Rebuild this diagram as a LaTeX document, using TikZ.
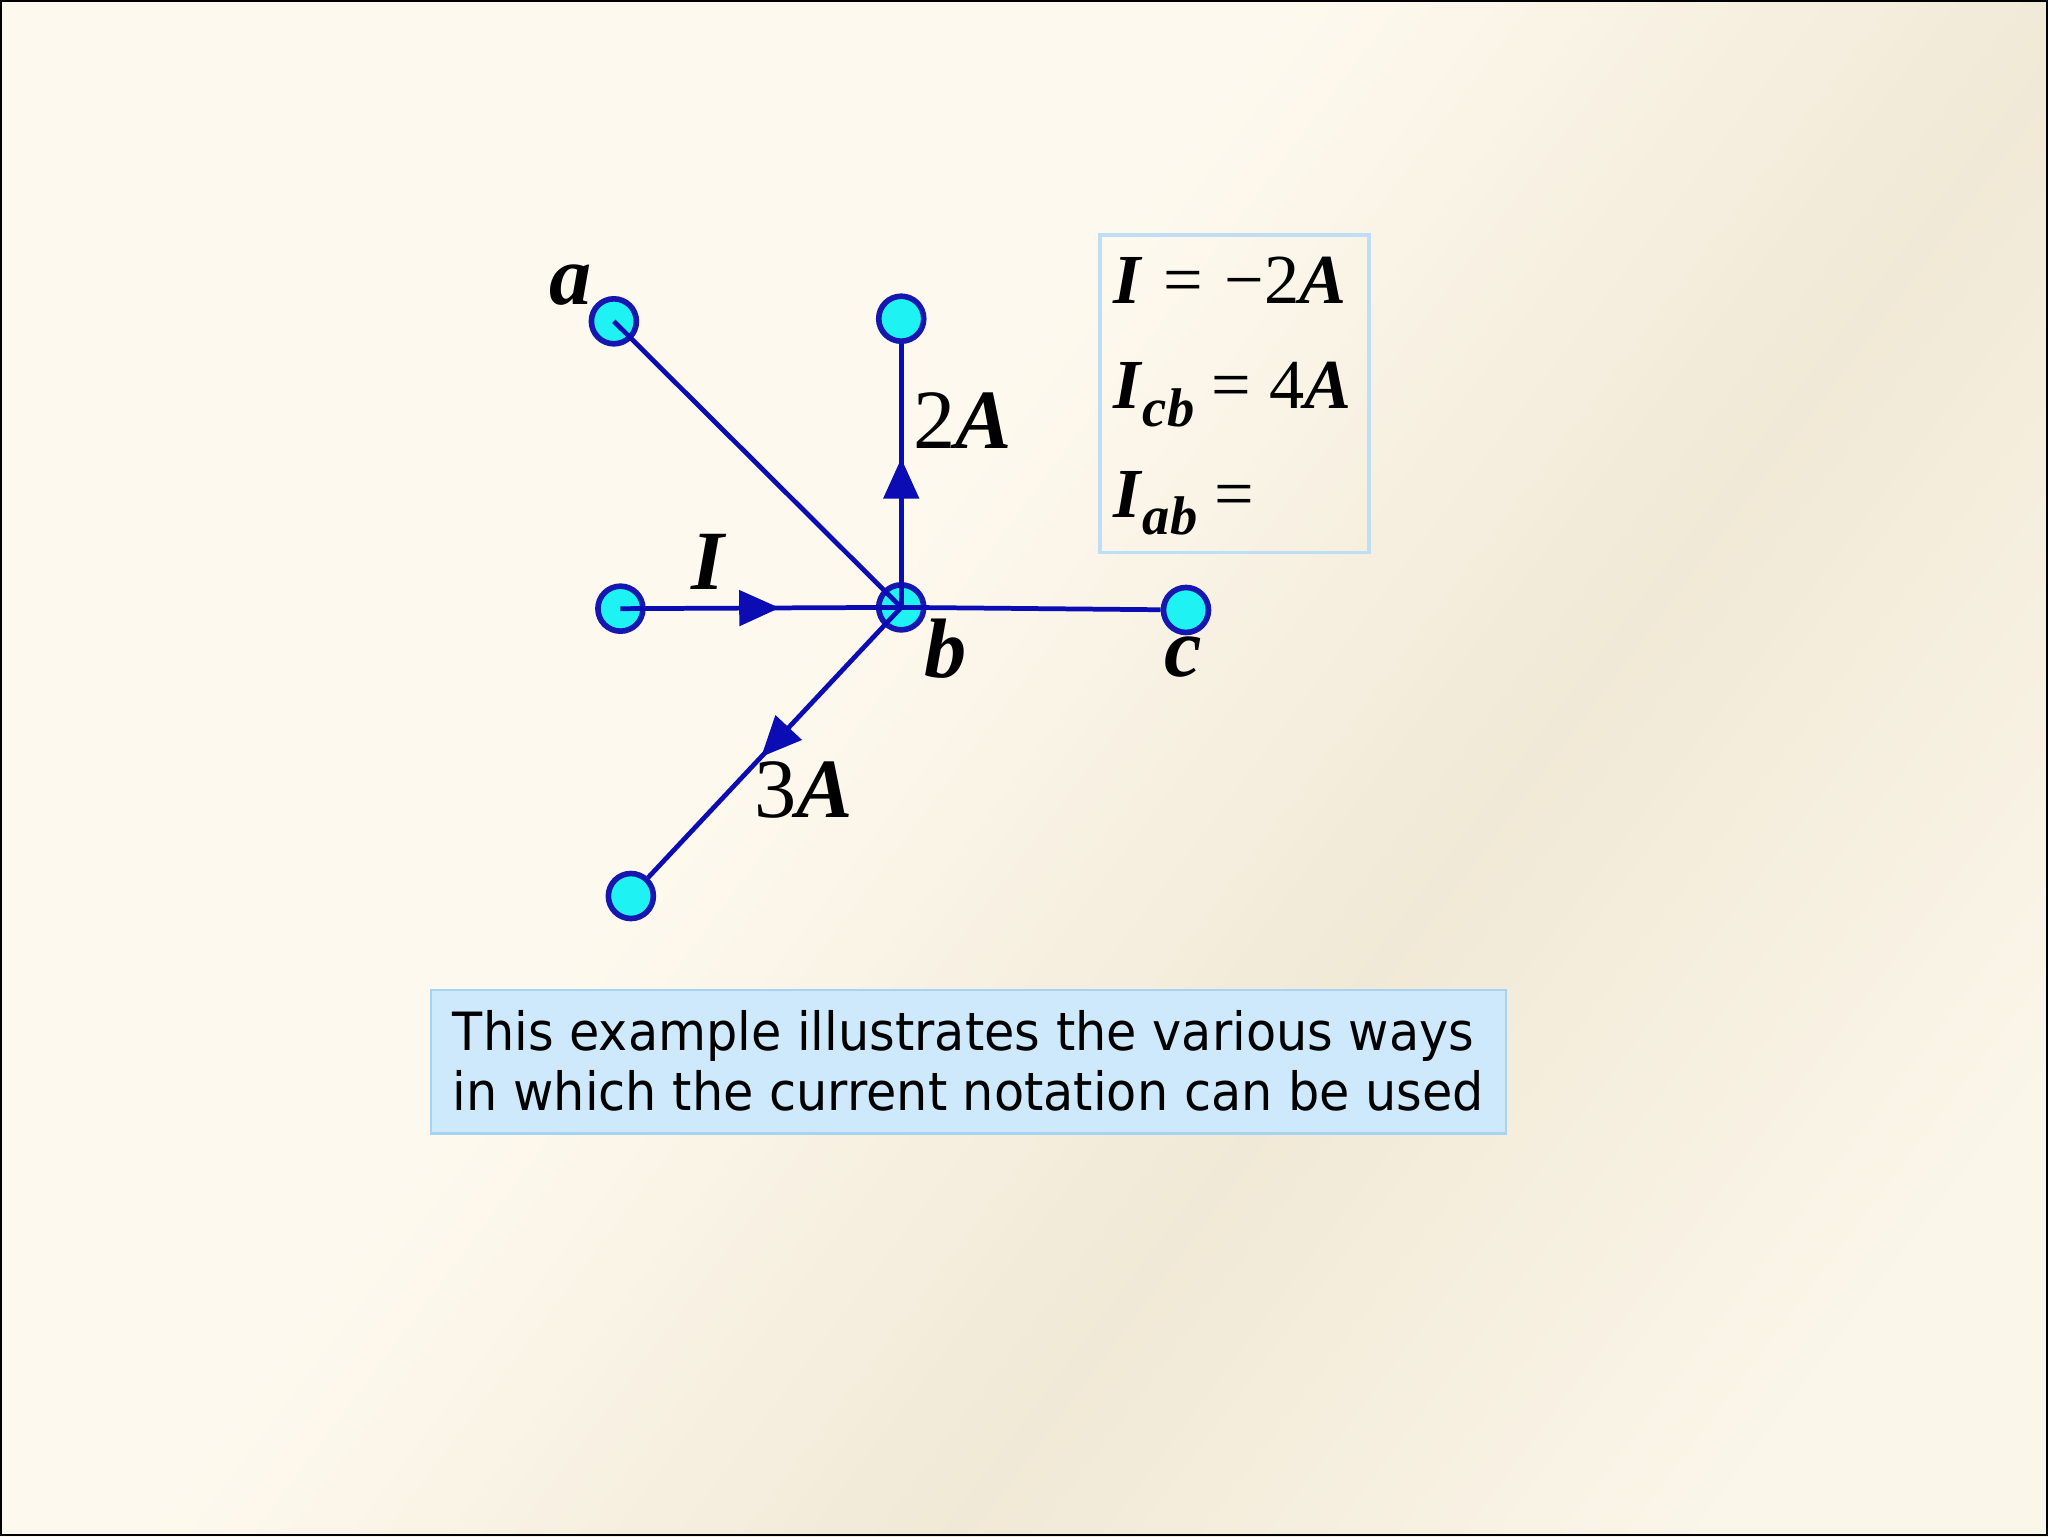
\documentclass[tikz,border=0pt]{standalone}
\usepackage{fontspec}
\setmainfont{Liberation Serif}
\newfontfamily\notefont{DejaVu Sans}
\usetikzlibrary{arrows.meta,decorations.markings}
\definecolor{wire}{RGB}{12,12,180}
\definecolor{rim}{RGB}{22,22,176}
\definecolor{dotfill}{RGB}{30,242,242}
\definecolor{boxline}{RGB}{190,221,247}
\definecolor{notefill}{RGB}{205,233,251}
\definecolor{noteline}{RGB}{168,210,242}
\definecolor{creamA}{RGB}{254,249,238}
\definecolor{creamB}{RGB}{241,233,214}
\definecolor{creamC}{RGB}{251,246,234}
\newcommand{\bivar}[1]{\textbf{\textit{#1}}}
\newcommand{\lowidx}[1]{\raisebox{-0.25em}{\fontsize{15.5}{15.5}\selectfont\bivar{#1}}}
\tikzset{
  terminal/.style={circle, draw=rim, fill=dotfill, line width=1.6pt, minimum size=12.8pt, inner sep=0pt},
  wire/.style={draw=wire, line width=1.35pt},
  mid arrow/.style={postaction={decorate}, decoration={markings,
      mark=at position #1 with {\arrow[wire]{Triangle[length=11.5pt,width=10pt]}}}},
  label/.style={inner sep=0pt, font=\fontsize{24}{24}\selectfont},
  eqline/.style={anchor=base west, inner sep=0pt, font=\fontsize{20}{20}\selectfont},
}
\begin{document}
\begin{tikzpicture}[x=0.1306mm, y=-0.1306mm]
    \useasboundingbox (0,0) rectangle (1568,1176);
    % background: diagonal bands
    \begin{scope}
      \clip (0,0) rectangle (1568,1176);
      \foreach \p in {-20,0,...,1980}{
        \pgfmathtruncatemacro{\w}{max(0,100*(1-abs(\p-1270)/480))}
        \ifnum\p<1270 \def\base{creamA}\else\def\base{creamC}\fi
        \fill[creamB!\w!\base] ({0.8*\p-960},{0.6*\p+1280}) -- ({0.8*\p+960},{0.6*\p-1280})
          -- ({0.8*(\p+22)+960},{0.6*(\p+22)-1280}) -- ({0.8*(\p+22)-960},{0.6*(\p+22)+1280}) -- cycle;
      }
    \end{scope}
    \draw[black, line width=0.6pt] (1,1) rectangle (1567,1175);

    % terminals
    \node[name=a, terminal] at (470,246) {};
    \node[name=d, terminal] at (690,244) {};
    \node[name=e, terminal] at (475,466) {};
    \node[name=b, terminal] at (690,465) {};
    \node[name=c, terminal] at (908,467) {};
    \node[name=f, terminal] at (483,686) {};

    % branches
    \draw[wire] (a.center) -- (b.center);
    \draw[wire, mid arrow=0.567] (e.center) -- (b.center);
    \draw[wire, mid arrow=0.566] (b.center) -- (d);
    \draw[wire] (b.center) -- (c);
    \draw[wire, mid arrow=0.554] (b.center) -- (f);

    % labels
    \node[name=la, label] at (437,218) {\bivar{a}};
    \node[name=lb, label] at (724,497) {\bivar{b}};
    \node[name=lc, label] at (906,503) {\bivar{c}};
    \node[name=li, label] at (543,430) {\bivar{I}};
    \node[name=l2a, label] at (737,322) {2\bivar{A}};
    \node[name=l3a, label] at (615,605) {3\bivar{A}};

    % given values
    \node[name=given, draw=boxline, line width=1.1pt, minimum width=76.5pt, minimum height=90.3pt, inner sep=0pt] at (945,301.5) {};
    \node[name=eq1, eqline] at (852,232) {\bivar{I}\hspace{0.3em}=\hspace{0.3em}−2\bivar{A}};
    \node[name=eq2, eqline] at (852,313) {\bivar{I}\lowidx{cb} = 4\bivar{A}};
    \node[name=eq3, eqline] at (852,396) {\bivar{I}\lowidx{ab} =};

    % note
    \node[name=note, draw=noteline, fill=notefill, line width=0.8pt, minimum width=305.8pt, minimum height=40.9pt, inner sep=0pt] at (741.5,813) {};
    \node[name=notetext, inner sep=0pt, font=\notefont\fontsize{15}{17.1}\selectfont] at ([yshift=-1.8pt]note.center)
      {\scalebox{0.935}[1]{\begin{tabular}{@{}l@{}}This example illustrates the various ways\\ in which the current notation can be used\end{tabular}}};
\end{tikzpicture}
\end{document}
